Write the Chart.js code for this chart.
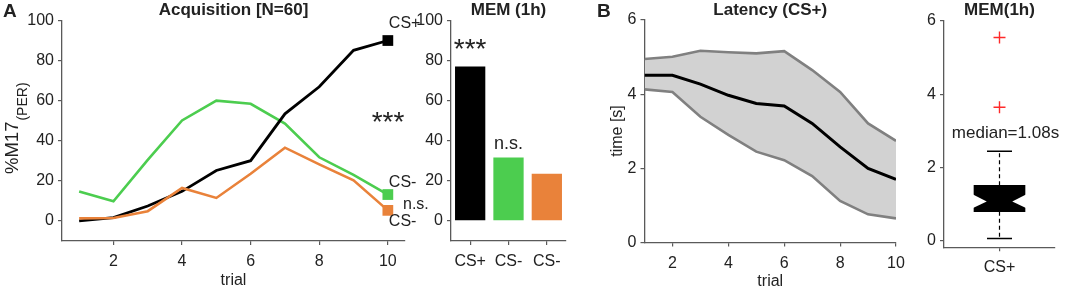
<!DOCTYPE html>
<html><head><meta charset="utf-8">
<script src="https://cdn.jsdelivr.net/npm/chart.js@4"></script>
<style>
html,body{margin:0;padding:0;background:#fff;}
#wrap{position:relative;width:1065px;height:289px;background:#fff;}
canvas{position:absolute;left:0;top:0;}
</style></head><body>
<div id="wrap">
<canvas id="cA" width="1065" height="289"></canvas>
<canvas id="cM" width="1065" height="289"></canvas>
<canvas id="cB" width="1065" height="289"></canvas>
<canvas id="cX" width="1065" height="289"></canvas>
</div>
<script>
// ---------------- data ----------------
const trials = [1,2,3,4,5,6,7,8,9,10];
const trialTicks = [2,4,6,8,10];
const csPlus = [0, 1.7, 7.5, 14.8, 25.2, 30.1, 53.5, 67, 85.2, 90.1];
const csMinusGreen = [14.7, 9.8, 30.5, 50.2, 60.1, 58.5, 48.6, 31.8, 23, 13.2];
const csMinusOrange = [1.3, 1.5, 4.9, 16.5, 11.5, 23.6, 36.6, 28.3, 20.3, 5.3];
const percentTicks = [0,20,40,60,80,100];
const memCategories = ['CS+','CS-','CS-'];
const memValues = [77.1, 31.7, 23.6];
const latMean  = [4.51,4.51,4.27,3.97,3.75,3.68,3.21,2.58,2.00,1.70];
const latUpper = [4.95,5.01,5.17,5.13,5.10,5.16,4.65,4.06,3.21,2.74];
const latLower = [4.13,4.06,3.39,2.90,2.45,2.22,1.79,1.12,0.76,0.65];
const timeTicks = [0,2,4,6];
const boxCategory = ['CS+'];
const boxQuartiles = [0.80, 1.52];
const boxMedian = [1.08];
const boxNotch = [0.90, 1.27];
const boxWhiskers = [0.07, 2.45];
const boxOutliers = [5.55, 3.65];

// ---------------- style ----------------
const W = 1065, H = 289, YW = 45, XH = 36;
const FONT = "'Liberation Sans', Arial, Helvetica, sans-serif";
const TX = '#222222', AX = '#5a5a5a';
const GREEN = '#4ccd4f', ORANGE = '#e9823a';
Chart.defaults.font.family = FONT;
Chart.defaults.color = TX;
Chart.defaults.animation = false;

function txt(ctx, s, x, y, o = {}) {
  ctx.save();
  ctx.font = (o.bold ? 'bold ' : '') + (o.size || 16) + 'px ' + FONT;
  ctx.fillStyle = o.color || TX;
  ctx.textAlign = o.align || 'center';
  ctx.textBaseline = 'middle';
  ctx.translate(x, y);
  if (o.rot) ctx.rotate(o.rot);
  ctx.fillText(s, 0, 0);
  ctx.restore();
}
function axis(extra, tickList) {
  const a = {
    afterFit(s) { if (s.isHorizontal()) s.height = XH; else s.width = YW; },
    grid: {display: true, drawOnChartArea: false, drawTicks: true, tickLength: 4, color: AX, lineWidth: 1.2},
    border: {display: true, color: AX, width: 1.3},
    ticks: {color: TX, font: {size: 16}, padding: 4, maxRotation: 0, autoSkip: false}
  };
  if (tickList) a.afterBuildTicks = (s) => { s.ticks = tickList.map(v => ({value: v})); };
  return Object.assign(a, extra);
}
const xTicks = {color: TX, font: {size: 16}, padding: 7, maxRotation: 0, autoSkip: false};
const catGrid = {display: true, offset: false, drawOnChartArea: false, drawTicks: true, tickLength: 4, color: AX, lineWidth: 1.2};
function area(l, t, r, b) { return {padding: {left: l - YW, top: t, right: W - r, bottom: H - b - XH}}; }
function pts(arr) { return trials.map((t, i) => ({x: t, y: arr[i]})); }
const baseOpts = {responsive: false, animation: false, devicePixelRatio: 1, events: [],
  plugins: {legend: {display: false}, tooltip: {enabled: false}, filler: {drawTime: 'beforeDatasetsDraw'}}};

// ---------------- Panel A: acquisition ----------------
const lastOnly = (r) => (ctx) => ctx.dataIndex === trials.length - 1 ? r : 0;
new Chart(document.getElementById('cA'), {
  type: 'line',
  data: {datasets: [
    {data: pts(csMinusOrange), borderColor: ORANGE, backgroundColor: ORANGE, borderWidth: 2.6, pointStyle: 'rect', pointRadius: lastOnly(7.6), pointBorderWidth: 0, tension: 0},
    {data: pts(csPlus), borderColor: '#000', backgroundColor: '#000', borderWidth: 2.8, pointStyle: 'rect', pointRadius: lastOnly(7.6), pointBorderWidth: 0, tension: 0},
    {data: pts(csMinusGreen), borderColor: GREEN, backgroundColor: GREEN, borderWidth: 2.6, pointStyle: 'rect', pointRadius: lastOnly(7.6), pointBorderWidth: 0, tension: 0}
  ]},
  options: Object.assign({}, baseOpts, {
    layout: area(62, 20.7, 405, 241),
    clip: false,
    scales: {
      x: axis({type: 'linear', min: 0.5, max: 10.5, ticks: xTicks}, trialTicks),
      y: axis({type: 'linear', min: -10, max: 100}, percentTicks)
    }
  }),
  plugins: [{id: 'txtA', afterDraw(c) {
    const ctx = c.ctx, x = c.scales.x;
    txt(ctx, 'A', 3, 12, {bold: true, size: 19, align: 'left'});
    txt(ctx, 'Acquisition [N=60]', (x.left + x.right) / 2, 10, {bold: true, size: 17});
    txt(ctx, 'trial', (x.left + x.right) / 2, 281, {size: 16});
    ctx.save();
    ctx.translate(13, 174);
    ctx.rotate(-Math.PI / 2);
    ctx.fillStyle = TX; ctx.textBaseline = 'middle'; ctx.textAlign = 'left';
    ctx.font = '18.5px ' + FONT;
    ctx.fillText('%M17', 0, 0);
    const w = ctx.measureText('%M17').width;
    ctx.font = '14px ' + FONT;
    ctx.fillText('(PER)', w + 1, 10);
    ctx.restore();
    const xr = x.getPixelForValue(10) + 1;
    txt(ctx, 'CS+', xr, 24, {size: 16, align: 'left'});
    txt(ctx, '***', 388, 123.5, {size: 28});
    txt(ctx, 'CS-', xr, 182.5, {size: 16, align: 'left'});
    txt(ctx, 'n.s.', 403, 205, {size: 16, align: 'left'});
    txt(ctx, 'CS-', xr, 222, {size: 16, align: 'left'});
  }}]
});

// ---------------- Panel A: memory bars ----------------
new Chart(document.getElementById('cM'), {
  type: 'bar',
  data: {labels: memCategories, datasets: [{data: memValues, backgroundColor: ['#000', GREEN, ORANGE], barPercentage: 0.79, categoryPercentage: 1, borderWidth: 0}]},
  options: Object.assign({}, baseOpts, {
    layout: area(451, 20.7, 566, 241),
    scales: {
      x: axis({type: 'category', grid: catGrid, ticks: xTicks}),
      y: axis({type: 'linear', min: -10, max: 100}, percentTicks)
    }
  }),
  plugins: [{id: 'txtM', afterDraw(c) {
    const ctx = c.ctx, x = c.scales.x;
    txt(ctx, 'MEM (1h)', (x.left + x.right) / 2, 10, {bold: true, size: 17});
    txt(ctx, '***', x.getPixelForValue(0), 50.5, {size: 28});
    txt(ctx, 'n.s.', x.getPixelForValue(1), 144, {size: 18});
  }}]
});

// ---------------- Panel B: latency ----------------
new Chart(document.getElementById('cB'), {
  type: 'line',
  data: {datasets: [
    {data: pts(latMean), borderColor: '#000', fill: false, borderWidth: 3, pointRadius: 0, tension: 0, order: 1},
    {data: pts(latUpper), borderColor: '#808080', backgroundColor: '#d2d2d2', fill: '+1', borderWidth: 2.6, pointRadius: 0, tension: 0, order: 3},
    {data: pts(latLower), borderColor: '#808080', fill: false, borderWidth: 2.6, pointRadius: 0, tension: 0, order: 2}
  ]},
  options: Object.assign({}, baseOpts, {
    layout: area(644.5, 20, 896, 242.5),
    scales: {
      x: axis({type: 'linear', min: 1, max: 10, ticks: xTicks}, trialTicks),
      y: axis({type: 'linear', min: 0, max: 6}, timeTicks)
    }
  }),
  plugins: [{id: 'txtB', afterDraw(c) {
    const ctx = c.ctx, x = c.scales.x;
    txt(ctx, 'B', 597, 12, {bold: true, size: 19, align: 'left'});
    txt(ctx, 'Latency (CS+)', (x.left + x.right) / 2, 10, {bold: true, size: 17});
    txt(ctx, 'trial', (x.left + x.right) / 2, 282, {size: 16});
    txt(ctx, 'time [s]', 618, 131, {size: 16, rot: -Math.PI / 2});
  }}]
});

// ---------------- Panel B: memory boxplot ----------------
new Chart(document.getElementById('cX'), {
  type: 'bar',
  data: {labels: boxCategory, datasets: [
    {type: 'line', data: boxOutliers.map(v => ({x: boxCategory[0], y: v})), showLine: false, pointStyle: 'cross', pointRadius: 6, borderColor: '#ff2a2a', borderWidth: 1.4},
    {type: 'bar', data: [boxQuartiles], backgroundColor: '#000', barThickness: 51, borderWidth: 0}
  ]},
  options: Object.assign({}, baseOpts, {
    layout: area(944, 21, 1055, 247.3),
    scales: {
      x: axis({type: 'category', offset: true, grid: catGrid, ticks: xTicks}),
      y: axis({type: 'linear', min: -0.17, max: 6}, timeTicks)
    }
  }),
  plugins: [{id: 'boxDeco', afterDatasetsDraw(c) {
    const ctx = c.ctx, x = c.scales.x, y = c.scales.y;
    const cx = x.getPixelForValue(0);
    const bar = c.getDatasetMeta(1).data[0];
    const hw = bar.width / 2, nw = hw / 2, cap = 12.5;
    ctx.save();
    ctx.fillStyle = '#fff';
    [-1, 1].forEach(sd => {
      ctx.beginPath();
      ctx.moveTo(cx + sd * (hw + 1), y.getPixelForValue(boxNotch[1]));
      ctx.lineTo(cx + sd * nw, y.getPixelForValue(boxMedian[0]));
      ctx.lineTo(cx + sd * (hw + 1), y.getPixelForValue(boxNotch[0]));
      ctx.closePath();
      ctx.fill();
    });
    ctx.strokeStyle = '#000'; ctx.lineWidth = 1.2;
    ctx.setLineDash([4, 3]);
    ctx.beginPath();
    ctx.moveTo(cx, y.getPixelForValue(boxQuartiles[1])); ctx.lineTo(cx, y.getPixelForValue(boxWhiskers[1]));
    ctx.moveTo(cx, y.getPixelForValue(boxQuartiles[0])); ctx.lineTo(cx, y.getPixelForValue(boxWhiskers[0]));
    ctx.stroke();
    ctx.setLineDash([]);
    ctx.lineWidth = 1.4;
    ctx.beginPath();
    boxWhiskers.forEach(v => { const py = y.getPixelForValue(v); ctx.moveTo(cx - cap, py); ctx.lineTo(cx + cap, py); });
    ctx.stroke();
    ctx.restore();
  }, afterDraw(c) {
    const ctx = c.ctx, x = c.scales.x;
    const cx = x.getPixelForValue(0);
    txt(ctx, 'MEM(1h)', cx, 10, {bold: true, size: 17});
    txt(ctx, 'median=' + boxMedian[0].toFixed(2) + 's', cx + 6, 133, {size: 17});
  }}]
});
</script>
</body></html>
